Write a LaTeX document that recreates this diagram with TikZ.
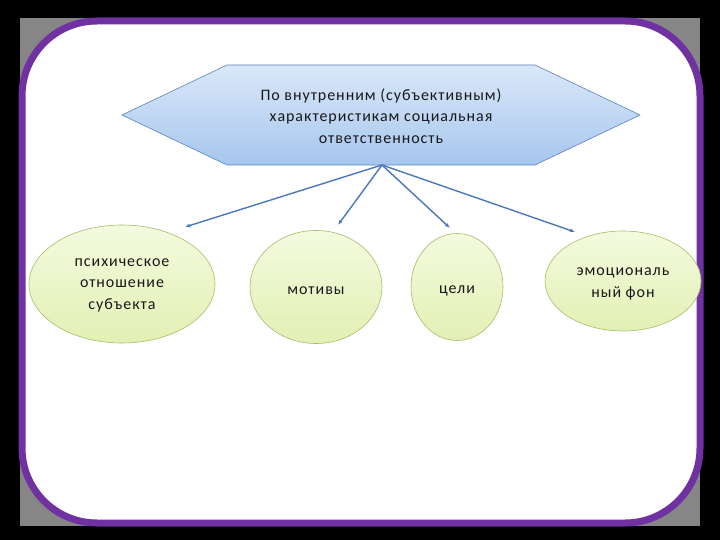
\documentclass[tikz,border=0pt]{standalone}
\usepackage{fontspec}
\setmainfont{Carlito}
\newfontfamily\spaced[LetterSpace=6]{Carlito}
\usetikzlibrary{shapes.geometric,arrows.meta}
\definecolor{frame}{RGB}{112,50,162}
\definecolor{hexline}{RGB}{90,130,190}
\definecolor{hextop}{RGB}{218,232,249}
\definecolor{hexbot}{RGB}{166,198,237}
\definecolor{elline}{RGB}{165,190,105}
\definecolor{eltop}{RGB}{244,250,222}
\definecolor{elbot}{RGB}{226,240,180}
\definecolor{arrcol}{RGB}{74,120,185}
\tikzset{
  txt/.style={font=\spaced\fontsize{16}{21.5}\selectfont, align=center, text=black!90},
  bubble/.style={ellipse, draw=elline, line width=0.6pt, top color=eltop, bottom color=elbot, inner sep=0pt},
  arr/.style={draw=arrcol, line width=1.4pt, -{Latex[length=5pt,width=4pt]}},
}
\begin{document}
\begin{tikzpicture}[x=1pt,y=-1pt]
\fill[black] (0,0) rectangle (720,540);
\useasboundingbox (0,0) rectangle (720,540);
\fill[gray!95] (20,18) rectangle (700,526);
\draw[frame, fill=white, line width=7pt, rounded corners=75pt] (22,21) rectangle (700,523);
% hexagon
\draw[hexline, line width=0.6pt, top color=hextop, bottom color=hexbot]
  (122,115) -- (227,65) -- (535,65) -- (640,115) -- (535,165) -- (227,165) -- cycle;
\node[txt] (hex) at (381,116) {По внутренним (субъективным)\\характеристикам социальная\\ответственность};
\coordinate (hb) at (382,165);
% ellipses
\node[bubble, minimum width=186pt, minimum height=118pt] (e1) at (122,284) {};
\node[txt] (t1) at (122,285) {психическое\\отношение\\субъекта};
\node[bubble, minimum width=132pt, minimum height=113pt] (e2) at (316,287) {};
\node[txt] (t2) at (316,291) {мотивы};
\node[bubble, minimum width=92pt, minimum height=107pt] (e3) at (457,287) {};
\node[txt] (t3) at (457,291) {цели};
\node[bubble, minimum width=156pt, minimum height=100pt] (e4) at (623,281) {};
\node[txt] (t4) at (623,284) {эмоциональ\\ный фон};
% arrow ends
\coordinate (a1) at (185,227);
\coordinate (a2) at (338,225);
\coordinate (a3) at (450,228);
\coordinate (a4) at (575,232);
\draw[arr] (hb) -- (a1);
\draw[arr] (hb) -- (a2);
\draw[arr] (hb) -- (a3);
\draw[arr] (hb) -- (a4);
\end{tikzpicture}
\end{document}
